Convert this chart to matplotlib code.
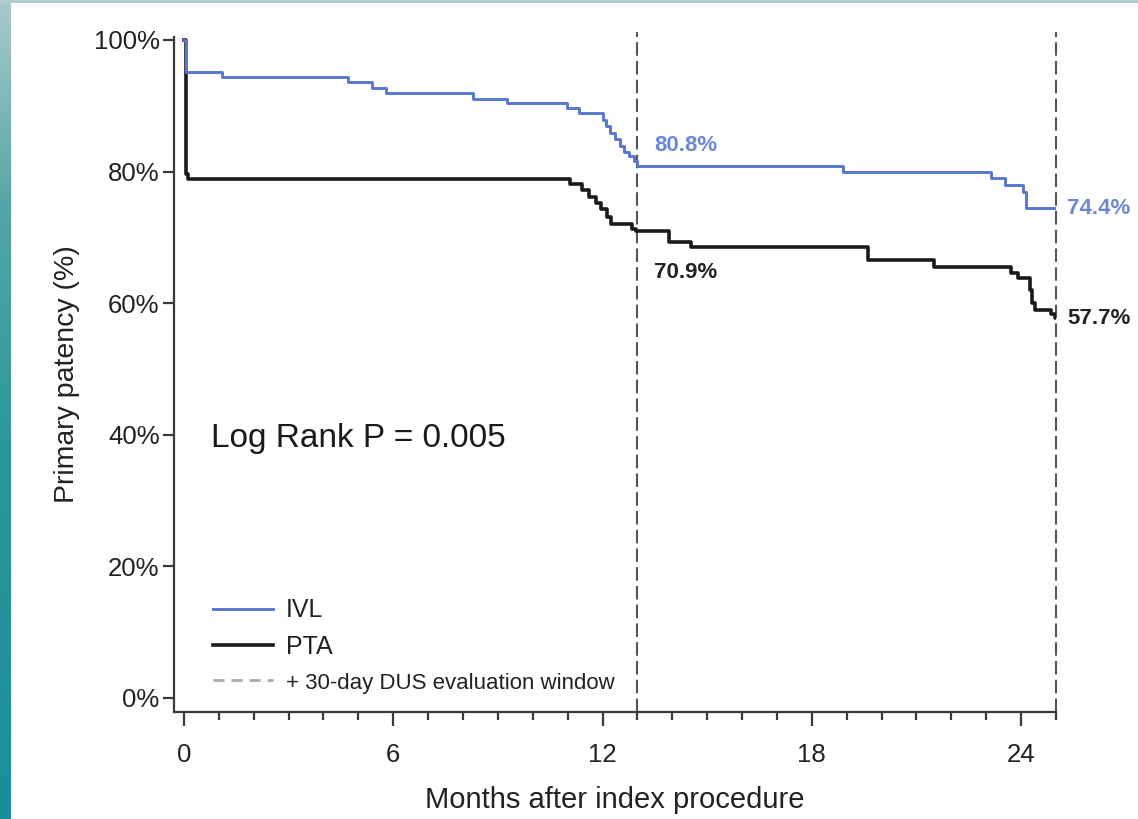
import numpy as np
import matplotlib
matplotlib.use("Agg")
import matplotlib.pyplot as plt
from matplotlib.colors import LinearSegmentedColormap
from matplotlib.lines import Line2D
from matplotlib.ticker import MultipleLocator, FixedLocator

plt.rcParams['font.family'] = ['Liberation Sans', 'DejaVu Sans']

# Kaplan-Meier step data (months, % patent)
ivl_months = [0, 0.05, 1.08, 4.7, 5.4, 5.8, 8.3, 9.27, 10.97, 11.32, 12.0, 12.1,
              12.2, 12.35, 12.5, 12.62, 12.75, 12.9, 12.98, 18.88, 23.15, 23.55,
              24.05, 24.15, 25.0]
ivl_surv = [100, 95.2, 94.3, 93.6, 92.7, 92.0, 91.1, 90.4, 89.6, 88.9, 87.9, 86.9,
            85.9, 84.9, 83.9, 83.0, 82.3, 81.6, 80.8, 79.9, 79.0, 77.9,
            76.9, 74.4, 74.4]

pta_months = [0, 0.05, 0.12, 11.07, 11.4, 11.6, 11.8, 11.97, 12.12, 12.25, 12.85,
              12.95, 13.9, 14.55, 19.6, 21.5, 23.7, 23.9, 24.25, 24.3, 24.4,
              24.85, 24.97, 25.0]
pta_surv = [100, 79.7, 78.8, 78.1, 77.2, 76.2, 75.3, 74.3, 73.1, 72.1, 71.3,
            70.9, 69.3, 68.5, 66.5, 65.5, 64.6, 63.8, 62.0, 60.0, 59.0,
            58.4, 57.7, 57.7]

window_months = [13, 25]
ivl_marks = [(13, 80.8), (25, 74.4)]
pta_marks = [(13, 70.9), (25, 57.7)]
x_ticks = [0, 6, 12, 18, 24]
y_ticks = [0, 20, 40, 60, 80, 100]
y_ticklabels = ['0%', '20%', '40%', '60%', '80%', '100%']

blue = '#5877d2'
dark = '#1a1a1a'
axis_col = '#3a3a3a'

fig = plt.figure(figsize=(11.38, 8.19), dpi=100)

# teal frame strips on the left and top edges
strip = fig.add_axes([0, 0, 11 / 1138, 1])
cmap = LinearSegmentedColormap.from_list(
    'teal', [(0, '#1a8e99'), (0.45, '#2a979c'), (0.75, '#55a6a6'), (1, '#a9c9c9')])
strip.imshow(np.linspace(0, 1, 256)[::-1].reshape(-1, 1), aspect='auto', cmap=cmap,
             extent=[0, 1, 0, 1])
strip.set_axis_off()
top = fig.add_axes([0, 1 - 3 / 819, 1, 3 / 819])
top.set_facecolor('#b2cccc')
top.set_xticks([])
top.set_yticks([])
for s in top.spines.values():
    s.set_visible(False)

ax = fig.add_axes([173.5 / 1138, 107 / 819, 882.5 / 1138, 675.3 / 819])
ax.set_xlim(-0.3, 25)
ax.set_ylim(-2.13, 100.5)

# evaluation windows
for m in window_months:
    ax.plot([m, m], [-2.13, 101.2], color='#555555', lw=1.5, dashes=(6.5, 2.5),
            clip_on=False, zorder=1)

ax.step(pta_months, pta_surv, where='post', color=dark, lw=2.6, zorder=3)
ax.step(ivl_months, ivl_surv, where='post', color=blue, lw=2.1, zorder=4)

# value labels at the window lines
ax.annotate('%.1f%%' % ivl_marks[0][1], ivl_marks[0], xytext=(12, 15),
            textcoords='offset points', ha='left', va='center', fontsize=16,
            fontweight='bold', color='#6a88d4')
ax.annotate('%.1f%%' % ivl_marks[1][1], ivl_marks[1], xytext=(8, 0),
            textcoords='offset points', ha='left', va='center', fontsize=16,
            fontweight='bold', color='#6a88d4', annotation_clip=False)
ax.annotate('%.1f%%' % pta_marks[0][1], pta_marks[0], xytext=(12, -29.5),
            textcoords='offset points', ha='left', va='center', fontsize=16,
            fontweight='bold', color='#222222')
ax.annotate('%.1f%%' % pta_marks[1][1], pta_marks[1], xytext=(8, 0),
            textcoords='offset points', ha='left', va='center', fontsize=16,
            fontweight='bold', color='#222222', annotation_clip=False)

ax.text(0.043, 0.405, 'Log Rank P = 0.005', transform=ax.transAxes, fontsize=24,
        color='#1a1a1a', va='center', ha='left')

# axes styling
for side in ['top', 'right']:
    ax.spines[side].set_visible(False)
for side in ['left', 'bottom']:
    ax.spines[side].set_color(axis_col)
    ax.spines[side].set_linewidth(1.6)

ax.xaxis.set_major_locator(FixedLocator(x_ticks))
ax.xaxis.set_minor_locator(MultipleLocator(1))
ax.set_yticks(y_ticks)
ax.set_yticklabels(y_ticklabels)
ax.tick_params(axis='x', which='major', length=10, width=1.6, color=axis_col,
               labelsize=18.5, labelcolor='#222222', pad=12)
ax.tick_params(axis='x', which='minor', length=6, width=1.6, color=axis_col)
ax.tick_params(axis='y', which='major', length=8, width=1.6, color=axis_col,
               labelsize=18.5, labelcolor='#222222', pad=2)

ax.set_xlabel('Months after index procedure', fontsize=21, color='#222222', labelpad=14)
ax.set_ylabel('Primary patency (%)', fontsize=20.5, color='#222222', labelpad=10)

handles = [Line2D([], [], color=blue, lw=2.1),
           Line2D([], [], color=dark, lw=2.6),
           Line2D([], [], color='#aaaaaa', lw=2.0, dashes=(4, 2.5))]
leg = ax.legend(handles, ['IVL', 'PTA', '+ 30-day DUS evaluation window'],
                loc='lower left', bbox_to_anchor=(0.045, 0.027), borderaxespad=0,
                borderpad=0, frameon=False, fontsize=18, handlelength=2.4,
                handletextpad=0.5, labelspacing=0.5)
for t in leg.get_texts():
    t.set_color('#222222')
leg.get_texts()[2].set_fontsize(16)

fig.savefig('out.png', dpi=100)
